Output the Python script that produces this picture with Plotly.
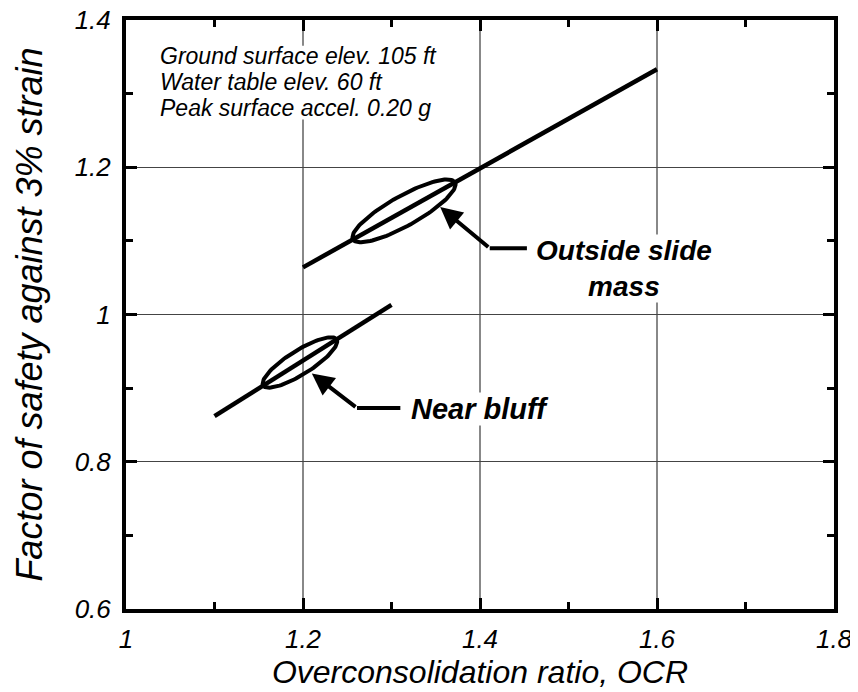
import numpy as np
import plotly.graph_objects as go

# data
outside_x = [1.2, 1.6]
outside_fs = [1.064, 1.333]
bluff_x = [1.1, 1.3]
bluff_fs = [0.862, 1.013]

# ellipse tips (x) on each line, half-width in px
outside_ell_x = [1.2565, 1.3718]
bluff_ell_x = [1.155, 1.238]
outside_ell_b = 15
bluff_ell_b = 12

# callout leader lines: tip, elbow, end
outside_lead_x = [1.355, 1.411, 1.453]
outside_lead_y = [1.146, 1.090, 1.090]
bluff_lead_x = [1.210, 1.261, 1.310]
bluff_lead_y = [0.920, 0.873, 0.873]

notes = ["Ground surface elev. 105 ft", "Water table elev. 60 ft", "Peak surface accel. 0.20 g"]
notes_y = [1.3510, 1.3157, 1.2804]

W, H = 858, 692
# the page body adds an 8px offset, so the margins are shifted by that
ML, MR, MT, MB = 118, 32, 12, 91
PX = (W - ML - MR) / 0.8
PY = (H - MT - MB) / 0.8
FONT = "Liberation Sans, Arial"


def ellipse(xs, lx, ly, b_px):
    k = (ly[1] - ly[0]) / (lx[1] - lx[0])
    ys = [ly[0] + k * (x - lx[0]) for x in xs]
    p0 = np.array([xs[0] * PX, ys[0] * PY])
    p1 = np.array([xs[1] * PX, ys[1] * PY])
    c = (p0 + p1) / 2
    u = (p1 - p0) / 2
    v = np.array([-u[1], u[0]]) / np.linalg.norm(u) * b_px
    t = np.linspace(0, 2 * np.pi, 120)
    pts = c[:, None] + np.outer(u, np.cos(t)) + np.outer(v, np.sin(t))
    return pts[0] / PX, pts[1] / PY


fig = go.Figure()

for lx, ly in [(outside_x, outside_fs), (bluff_x, bluff_fs)]:
    fig.add_trace(go.Scatter(x=lx, y=ly, mode="lines",
                             line=dict(color="black", width=4.5), hoverinfo="skip"))

for ex, lx, ly, b in [(outside_ell_x, outside_x, outside_fs, outside_ell_b),
                      (bluff_ell_x, bluff_x, bluff_fs, bluff_ell_b)]:
    x, y = ellipse(ex, lx, ly, b)
    fig.add_trace(go.Scatter(x=x, y=y, mode="lines",
                             line=dict(color="black", width=4), hoverinfo="skip"))

for lx, ly in [(outside_lead_x, outside_lead_y), (bluff_lead_x, bluff_lead_y)]:
    fig.add_trace(go.Scatter(x=lx[1:], y=ly[1:], mode="lines",
                             line=dict(color="black", width=4), hoverinfo="skip"))
    fig.add_annotation(x=lx[0], y=ly[0], ax=lx[1], ay=ly[1], axref="x", ayref="y",
                       xref="x", yref="y", text="", showarrow=True,
                       arrowhead=2, arrowsize=1.1, arrowwidth=4, arrowcolor="black")

fig.add_annotation(x=1.563, y=1.063, xref="x", yref="y", showarrow=False,
                   text="<b><i>Outside slide<br>mass</i></b>", align="center",
                   font=dict(family=FONT, size=28, color="black"),
                   bgcolor="white", borderpad=0)
fig.add_annotation(x=1.40, y=0.871, xref="x", yref="y", showarrow=False,
                   text="<b><i>Near bluff</i></b>",
                   font=dict(family=FONT, size=29, color="black"),
                   bgcolor="white", borderpad=0)

# white patch hiding the grid behind the notes
fig.add_shape(type="rect", layer="between", xref="x", yref="y",
              x0=1.03, x1=1.39, y0=1.265, y1=1.365,
              fillcolor="white", line=dict(width=0))
for s, ny in zip(notes, notes_y):
    fig.add_annotation(x=1.036, y=ny, xref="x", yref="y", showarrow=False,
                       xanchor="left", yanchor="middle", text="<i>%s</i>" % s,
                       font=dict(family=FONT, size=23, color="black"))

tick_style = dict(ticks="inside", ticklen=11, tickwidth=3, tickcolor="black",
                  minor=dict(dtick=0.1, ticks="inside", ticklen=7, tickwidth=3,
                             tickcolor="black", showgrid=False))
axis_common = dict(
    showline=True, linecolor="black", linewidth=4, mirror=True,
    showgrid=True, zeroline=False, automargin=False, ticklabeloverflow="allow",
    tickfont=dict(family=FONT, size=26, color="black", style="italic"),
    **tick_style,
)

fig.update_layout(
    xaxis=dict(range=[1, 1.8], dtick=0.2, tick0=1, gridcolor="#888888", gridwidth=1.5,
               ticklabelstandoff=4,
               title=dict(text="Overconsolidation ratio, OCR", standoff=4,
                          font=dict(family=FONT, size=32, color="black", style="italic")),
               **axis_common),
    yaxis=dict(range=[0.6, 1.4], dtick=0.2, tick0=0.6, gridcolor="#444444", gridwidth=1,
               tickformat="~g", ticklabelstandoff=6,
               title=dict(text="Factor of safety against 3% strain", standoff=22,
                          font=dict(family=FONT, size=36, color="black", style="italic")),
               **axis_common),
    xaxis2=dict(overlaying="x", side="top", range=[1, 1.8], dtick=0.2, tick0=1,
                showticklabels=False, showgrid=False, zeroline=False, **tick_style),
    yaxis2=dict(overlaying="y", side="right", range=[0.6, 1.4], dtick=0.2, tick0=0.6,
                showticklabels=False, showgrid=False, zeroline=False, **tick_style),
    width=W, height=H, margin=dict(l=ML, r=MR, t=MT, b=MB),
    plot_bgcolor="white", paper_bgcolor="white", showlegend=False,
)
# invisible trace so the mirrored tick axes are drawn
fig.add_trace(go.Scatter(x=[1.0], y=[0.6], xaxis="x2", yaxis="y2", mode="markers",
                         marker=dict(opacity=0), hoverinfo="skip"))

fig.write_html("out.html")
